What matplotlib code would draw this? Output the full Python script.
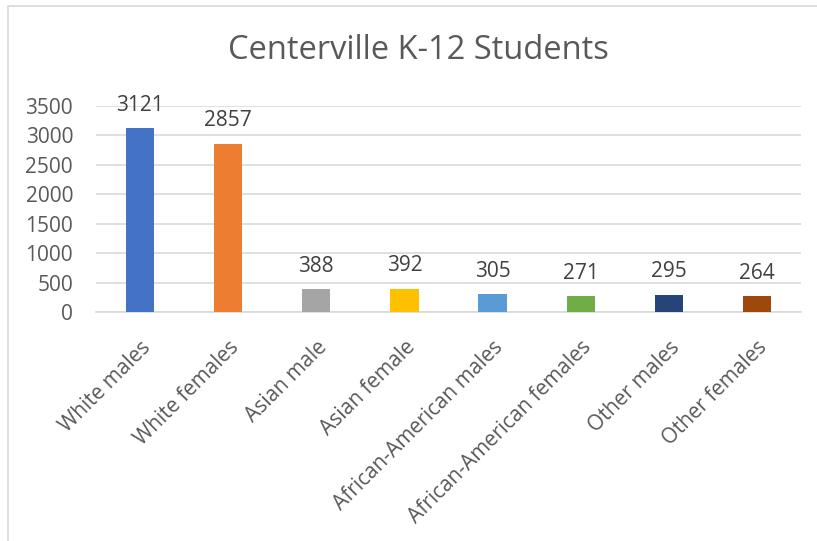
import matplotlib.pyplot as plt
from matplotlib.patches import Rectangle

# data
categories = ['White males', 'White females', 'Asian male', 'Asian female',
              'African-American males', 'African-American females',
              'Other males', 'Other females']
students = [3121, 2857, 388, 392, 305, 271, 295, 264]
colors = ['#4472C4', '#ED7D31', '#A5A5A5', '#FFC000',
          '#5B9BD5', '#70AD47', '#264478', '#9E480E']
yticks = [0, 500, 1000, 1500, 2000, 2500, 3000, 3500]

plt.rcParams['font.family'] = ['Open Sans', 'DejaVu Sans']
txt = '#595959'

fig = plt.figure(figsize=(8.17, 5.41), dpi=100)
W, H = 817, 541
ax = fig.add_axes([96 / W, 1 - 312 / H, (801 - 96) / W, (312 - 106) / H])

x = range(len(categories))
ax.bar(x, students, width=0.32, color=colors, zorder=3)
for xi, v in zip(x, students):
    ax.annotate(str(v), (xi, v), xytext=(0, 9), textcoords='offset points',
                ha='center', va='bottom', fontsize=15, color='#404040')

ax.set_xlim(-0.5, len(categories) - 0.5)
ax.set_ylim(0, 3500)
ax.set_yticks(yticks)
ax.set_yticklabels([str(t) for t in yticks], fontsize=15, color=txt)
ax.set_xticks(list(x))
ax.set_xticklabels(categories, rotation=45, ha='right', rotation_mode='anchor',
                   fontsize=15, color=txt)
ax.tick_params(length=0, axis='y', pad=16.5)
ax.tick_params(length=0, axis='x', pad=18)
ax.grid(axis='y', color='#D9D9D9', linewidth=1.2, zorder=0)
for s in ['top', 'right', 'left']:
    ax.spines[s].set_visible(False)
ax.spines['bottom'].set_color('#D9D9D9')
ax.spines['bottom'].set_linewidth(1.2)

fig.text(418 / W, 1 - 50 / H, 'Centerville K-12 Students', ha='center', va='center',
         fontsize=23.5, color=txt)

# chart border
fig.patches.append(Rectangle((8 / W, -0.1), 1.1, 1 - 6 / H + 0.1, transform=fig.transFigure,
                             fill=False, edgecolor='#D9D9D9', linewidth=1.2))

fig.savefig('out.png', dpi=100)
